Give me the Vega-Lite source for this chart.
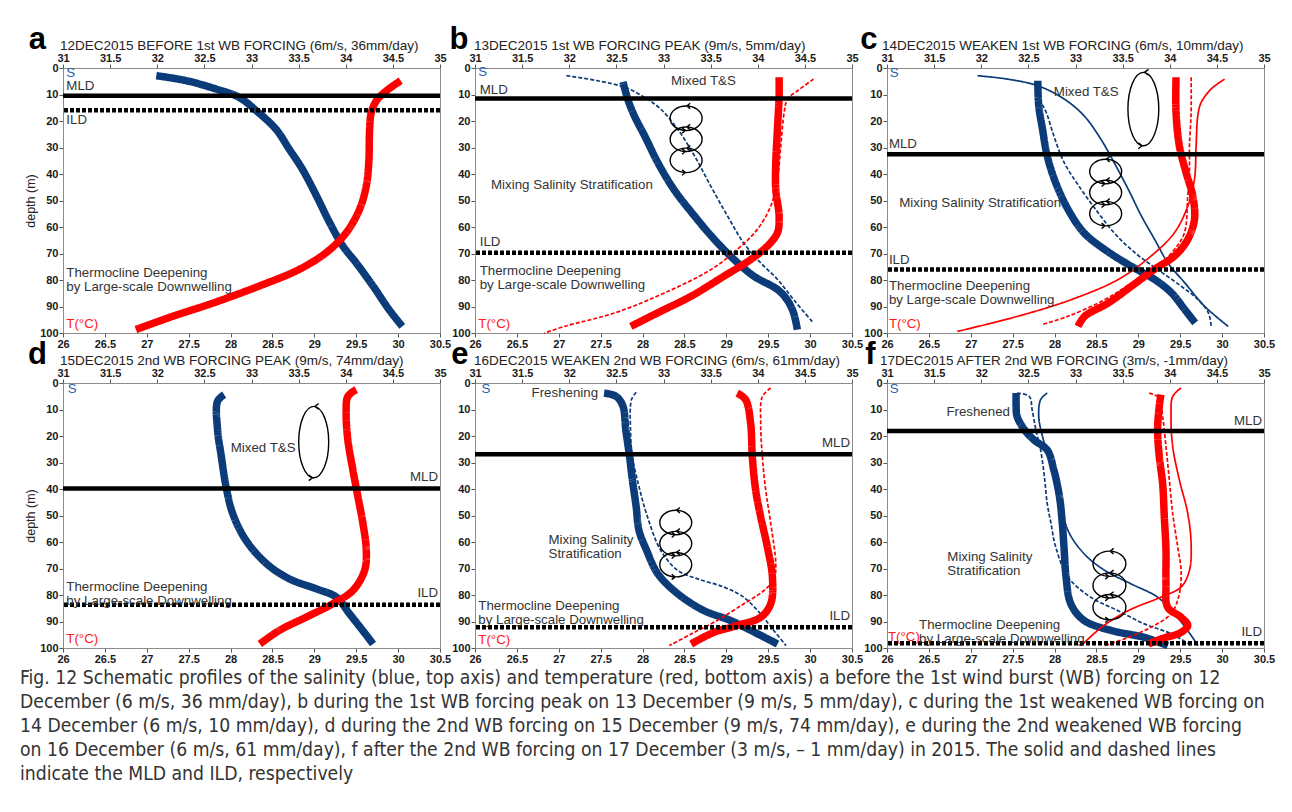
{
"$schema": "https://vega.github.io/schema/vega-lite/v6.json",
"background": "white",
"padding": {"left": 20, "top": 23, "right": 10, "bottom": 5},
"bounds": "flush",
"columns": 3,
"spacing": {"row": 50, "column": 35},
"title": {"text": ["Fig. 12 Schematic profiles of the salinity (blue, top axis) and temperature (red, bottom axis) a before the 1st wind burst (WB) forcing on 12", "December (6 m/s, 36 mm/day), b during the 1st WB forcing peak on 13 December (9 m/s, 5 mm/day), c during the 1st weakened WB forcing on", "14 December (6 m/s, 10 mm/day), d during the 2nd WB forcing on 15 December (9 m/s, 74 mm/day), e during the 2nd weakened WB forcing", "on 16 December (6 m/s, 61 mm/day), f after the 2nd WB forcing on 17 December (3 m/s, – 1 mm/day) in 2015. The solid and dashed lines", "indicate the MLD and ILD, respectively"], "orient": "bottom", "anchor": "start", "frame": "group", "font": "Liberation Sans Narrow, DejaVu Sans Condensed, Liberation Sans", "fontSize": 19.2, "fontWeight": "normal", "color": "#333", "lineHeight": 24, "offset": 4, "dx": -43},
"datasets": {
"prof": [
{"panel":"a","var":"S","kind":"cur","depth":2.9,"value":31.99},{"panel":"a","var":"S","kind":"cur","depth":4.8,"value":32.31},{"panel":"a","var":"S","kind":"cur","depth":8.0,"value":32.63},{"panel":"a","var":"S","kind":"cur","depth":11.1,"value":32.87},{"panel":"a","var":"S","kind":"cur","depth":16.1,"value":33.05},{"panel":"a","var":"S","kind":"cur","depth":23.1,"value":33.26},{"panel":"a","var":"S","kind":"cur","depth":30.6,"value":33.40},{"panel":"a","var":"S","kind":"cur","depth":38.2,"value":33.54},{"panel":"a","var":"S","kind":"cur","depth":48.3,"value":33.69},{"panel":"a","var":"S","kind":"cur","depth":58.4,"value":33.83},{"panel":"a","var":"S","kind":"cur","depth":67.2,"value":33.97},{"panel":"a","var":"S","kind":"cur","depth":73.5,"value":34.11},{"panel":"a","var":"S","kind":"cur","depth":82.3,"value":34.29},{"panel":"a","var":"S","kind":"cur","depth":91.2,"value":34.46},{"panel":"a","var":"S","kind":"cur","depth":97.5,"value":34.60},
{"panel":"a","var":"T","kind":"cur","depth":4.8,"value":30.03},{"panel":"a","var":"T","kind":"cur","depth":8.6,"value":29.86},{"panel":"a","var":"T","kind":"cur","depth":12.4,"value":29.74},{"panel":"a","var":"T","kind":"cur","depth":16.8,"value":29.68},{"panel":"a","var":"T","kind":"cur","depth":23.1,"value":29.66},{"panel":"a","var":"T","kind":"cur","depth":35.7,"value":29.65},{"panel":"a","var":"T","kind":"cur","depth":44.5,"value":29.62},{"panel":"a","var":"T","kind":"cur","depth":53.3,"value":29.54},{"panel":"a","var":"T","kind":"cur","depth":62.2,"value":29.38},{"panel":"a","var":"T","kind":"cur","depth":69.7,"value":29.14},{"panel":"a","var":"T","kind":"cur","depth":76.0,"value":28.82},{"panel":"a","var":"T","kind":"cur","depth":82.3,"value":28.34},{"panel":"a","var":"T","kind":"cur","depth":88.7,"value":27.79},{"panel":"a","var":"T","kind":"cur","depth":93.7,"value":27.31},{"panel":"a","var":"T","kind":"cur","depth":98.7,"value":26.87},
{"panel":"b","var":"S","kind":"cur","depth":5.2,"value":32.57},{"panel":"b","var":"S","kind":"cur","depth":11.7,"value":32.62},{"panel":"b","var":"S","kind":"cur","depth":18.0,"value":32.69},{"panel":"b","var":"S","kind":"cur","depth":25.6,"value":32.80},{"panel":"b","var":"S","kind":"cur","depth":35.7,"value":32.94},{"panel":"b","var":"S","kind":"cur","depth":45.8,"value":33.11},{"panel":"b","var":"S","kind":"cur","depth":55.9,"value":33.33},{"panel":"b","var":"S","kind":"cur","depth":64.7,"value":33.54},{"panel":"b","var":"S","kind":"cur","depth":72.3,"value":33.75},{"panel":"b","var":"S","kind":"cur","depth":78.6,"value":33.96},{"panel":"b","var":"S","kind":"cur","depth":83.6,"value":34.21},{"panel":"b","var":"S","kind":"cur","depth":87.4,"value":34.31},{"panel":"b","var":"S","kind":"cur","depth":92.4,"value":34.38},{"panel":"b","var":"S","kind":"cur","depth":98.7,"value":34.42},
{"panel":"b","var":"S","kind":"prev","depth":2.9,"value":31.97},{"panel":"b","var":"S","kind":"prev","depth":4.8,"value":32.30},{"panel":"b","var":"S","kind":"prev","depth":7.3,"value":32.59},{"panel":"b","var":"S","kind":"prev","depth":11.1,"value":32.80},{"panel":"b","var":"S","kind":"prev","depth":15.5,"value":32.97},{"panel":"b","var":"S","kind":"prev","depth":23.1,"value":33.15},{"panel":"b","var":"S","kind":"prev","depth":33.2,"value":33.33},{"panel":"b","var":"S","kind":"prev","depth":44.5,"value":33.50},{"panel":"b","var":"S","kind":"prev","depth":55.9,"value":33.68},{"panel":"b","var":"S","kind":"prev","depth":66.0,"value":33.85},{"panel":"b","var":"S","kind":"prev","depth":73.5,"value":34.03},{"panel":"b","var":"S","kind":"prev","depth":79.8,"value":34.21},{"panel":"b","var":"S","kind":"prev","depth":87.4,"value":34.38},{"panel":"b","var":"S","kind":"prev","depth":96.2,"value":34.59},
{"panel":"b","var":"T","kind":"cur","depth":3.5,"value":29.63},{"panel":"b","var":"T","kind":"cur","depth":10.5,"value":29.63},{"panel":"b","var":"T","kind":"cur","depth":23.1,"value":29.61},{"panel":"b","var":"T","kind":"cur","depth":35.7,"value":29.59},{"panel":"b","var":"T","kind":"cur","depth":45.8,"value":29.59},{"panel":"b","var":"T","kind":"cur","depth":55.9,"value":29.63},{"panel":"b","var":"T","kind":"cur","depth":62.2,"value":29.61},{"panel":"b","var":"T","kind":"cur","depth":67.2,"value":29.49},{"panel":"b","var":"T","kind":"cur","depth":72.3,"value":29.29},{"panel":"b","var":"T","kind":"cur","depth":78.6,"value":28.97},{"panel":"b","var":"T","kind":"cur","depth":86.1,"value":28.58},{"panel":"b","var":"T","kind":"cur","depth":92.4,"value":28.18},{"panel":"b","var":"T","kind":"cur","depth":97.5,"value":27.86},
{"panel":"b","var":"T","kind":"prev","depth":4.2,"value":30.04},{"panel":"b","var":"T","kind":"prev","depth":8.6,"value":29.85},{"panel":"b","var":"T","kind":"prev","depth":11.7,"value":29.73},{"panel":"b","var":"T","kind":"prev","depth":16.8,"value":29.69},{"panel":"b","var":"T","kind":"prev","depth":29.4,"value":29.65},{"panel":"b","var":"T","kind":"prev","depth":42.0,"value":29.61},{"panel":"b","var":"T","kind":"prev","depth":52.1,"value":29.53},{"panel":"b","var":"T","kind":"prev","depth":60.9,"value":29.37},{"panel":"b","var":"T","kind":"prev","depth":68.5,"value":29.13},{"panel":"b","var":"T","kind":"prev","depth":76.0,"value":28.82},{"panel":"b","var":"T","kind":"prev","depth":84.9,"value":28.26},{"panel":"b","var":"T","kind":"prev","depth":92.4,"value":27.67},{"panel":"b","var":"T","kind":"prev","depth":97.5,"value":27.07},{"panel":"b","var":"T","kind":"prev","depth":100,"value":26.83},
{"panel":"c","var":"S","kind":"cur","depth":4.8,"value":32.60},{"panel":"c","var":"S","kind":"cur","depth":14.2,"value":32.61},{"panel":"c","var":"S","kind":"cur","depth":23.1,"value":32.65},{"panel":"c","var":"S","kind":"cur","depth":33.2,"value":32.70},{"panel":"c","var":"S","kind":"cur","depth":43.3,"value":32.79},{"panel":"c","var":"S","kind":"cur","depth":53.3,"value":32.92},{"panel":"c","var":"S","kind":"cur","depth":62.2,"value":33.09},{"panel":"c","var":"S","kind":"cur","depth":68.5,"value":33.31},{"panel":"c","var":"S","kind":"cur","depth":74.8,"value":33.59},{"panel":"c","var":"S","kind":"cur","depth":79.8,"value":33.84},{"panel":"c","var":"S","kind":"cur","depth":84.9,"value":34.02},{"panel":"c","var":"S","kind":"cur","depth":91.2,"value":34.16},{"panel":"c","var":"S","kind":"cur","depth":96.2,"value":34.27},
{"panel":"c","var":"S","kind":"prev","depth":5.2,"value":32.57},{"panel":"c","var":"S","kind":"prev","depth":11.7,"value":32.62},{"panel":"c","var":"S","kind":"prev","depth":16.8,"value":32.69},{"panel":"c","var":"S","kind":"prev","depth":25.6,"value":32.77},{"panel":"c","var":"S","kind":"prev","depth":35.7,"value":32.88},{"panel":"c","var":"S","kind":"prev","depth":45.8,"value":33.06},{"panel":"c","var":"S","kind":"prev","depth":54.6,"value":33.24},{"panel":"c","var":"S","kind":"prev","depth":62.2,"value":33.41},{"panel":"c","var":"S","kind":"prev","depth":69.7,"value":33.63},{"panel":"c","var":"S","kind":"prev","depth":76.0,"value":33.87},{"panel":"c","var":"S","kind":"prev","depth":82.3,"value":34.12},{"panel":"c","var":"S","kind":"prev","depth":87.4,"value":34.30},{"panel":"c","var":"S","kind":"prev","depth":92.4,"value":34.41},{"panel":"c","var":"S","kind":"prev","depth":97.5,"value":34.44},
{"panel":"c","var":"S","kind":"prev2","depth":2.9,"value":31.96},{"panel":"c","var":"S","kind":"prev2","depth":4.2,"value":32.28},{"panel":"c","var":"S","kind":"prev2","depth":6.7,"value":32.60},{"panel":"c","var":"S","kind":"prev2","depth":11.7,"value":32.88},{"panel":"c","var":"S","kind":"prev2","depth":18.0,"value":33.09},{"panel":"c","var":"S","kind":"prev2","depth":26.9,"value":33.27},{"panel":"c","var":"S","kind":"prev2","depth":35.7,"value":33.41},{"panel":"c","var":"S","kind":"prev2","depth":45.8,"value":33.56},{"panel":"c","var":"S","kind":"prev2","depth":55.9,"value":33.70},{"panel":"c","var":"S","kind":"prev2","depth":64.7,"value":33.84},{"panel":"c","var":"S","kind":"prev2","depth":73.5,"value":33.98},{"panel":"c","var":"S","kind":"prev2","depth":81.1,"value":34.16},{"panel":"c","var":"S","kind":"prev2","depth":89.9,"value":34.37},{"panel":"c","var":"S","kind":"prev2","depth":97.5,"value":34.62},
{"panel":"c","var":"T","kind":"cur","depth":3.5,"value":29.45},{"panel":"c","var":"T","kind":"cur","depth":16.8,"value":29.45},{"panel":"c","var":"T","kind":"cur","depth":29.4,"value":29.49},{"panel":"c","var":"T","kind":"cur","depth":39.5,"value":29.57},{"panel":"c","var":"T","kind":"cur","depth":48.3,"value":29.65},{"panel":"c","var":"T","kind":"cur","depth":57.1,"value":29.67},{"panel":"c","var":"T","kind":"cur","depth":64.7,"value":29.59},{"panel":"c","var":"T","kind":"cur","depth":71.0,"value":29.43},{"panel":"c","var":"T","kind":"cur","depth":76.0,"value":29.19},{"panel":"c","var":"T","kind":"cur","depth":82.3,"value":28.92},{"panel":"c","var":"T","kind":"cur","depth":88.7,"value":28.64},{"panel":"c","var":"T","kind":"cur","depth":93.7,"value":28.36},{"panel":"c","var":"T","kind":"cur","depth":97.5,"value":28.28},
{"panel":"c","var":"T","kind":"prev","depth":3.5,"value":29.63},{"panel":"c","var":"T","kind":"prev","depth":16.8,"value":29.63},{"panel":"c","var":"T","kind":"prev","depth":29.4,"value":29.61},{"panel":"c","var":"T","kind":"prev","depth":39.5,"value":29.61},{"panel":"c","var":"T","kind":"prev","depth":48.3,"value":29.59},{"panel":"c","var":"T","kind":"prev","depth":62.2,"value":29.55},{"panel":"c","var":"T","kind":"prev","depth":68.5,"value":29.43},{"panel":"c","var":"T","kind":"prev","depth":74.8,"value":29.23},{"panel":"c","var":"T","kind":"prev","depth":81.1,"value":28.92},{"panel":"c","var":"T","kind":"prev","depth":87.4,"value":28.60},{"panel":"c","var":"T","kind":"prev","depth":93.7,"value":28.16},{"panel":"c","var":"T","kind":"prev","depth":96.9,"value":27.84},
{"panel":"c","var":"T","kind":"prev2","depth":4.2,"value":30.03},{"panel":"c","var":"T","kind":"prev2","depth":7.9,"value":29.87},{"panel":"c","var":"T","kind":"prev2","depth":13.0,"value":29.75},{"panel":"c","var":"T","kind":"prev2","depth":18.0,"value":29.71},{"panel":"c","var":"T","kind":"prev2","depth":29.4,"value":29.69},{"panel":"c","var":"T","kind":"prev2","depth":42.0,"value":29.67},{"panel":"c","var":"T","kind":"prev2","depth":52.1,"value":29.59},{"panel":"c","var":"T","kind":"prev2","depth":62.2,"value":29.43},{"panel":"c","var":"T","kind":"prev2","depth":71.0,"value":29.15},{"panel":"c","var":"T","kind":"prev2","depth":79.8,"value":28.76},{"panel":"c","var":"T","kind":"prev2","depth":87.4,"value":28.20},{"panel":"c","var":"T","kind":"prev2","depth":93.7,"value":27.56},{"panel":"c","var":"T","kind":"prev2","depth":99.4,"value":26.84},
{"panel":"d","var":"S","kind":"cur","depth":4.4,"value":32.71},{"panel":"d","var":"S","kind":"cur","depth":6.9,"value":32.64},{"panel":"d","var":"S","kind":"cur","depth":17.7,"value":32.64},{"panel":"d","var":"S","kind":"cur","depth":27.8,"value":32.68},{"panel":"d","var":"S","kind":"cur","depth":39.1,"value":32.73},{"panel":"d","var":"S","kind":"cur","depth":49.2,"value":32.80},{"panel":"d","var":"S","kind":"cur","depth":59.3,"value":32.94},{"panel":"d","var":"S","kind":"cur","depth":68.2,"value":33.16},{"panel":"d","var":"S","kind":"cur","depth":73.9,"value":33.40},{"panel":"d","var":"S","kind":"cur","depth":77.7,"value":33.69},{"panel":"d","var":"S","kind":"cur","depth":80.8,"value":33.90},{"panel":"d","var":"S","kind":"cur","depth":87.1,"value":34.04},{"panel":"d","var":"S","kind":"cur","depth":93.4,"value":34.18},{"panel":"d","var":"S","kind":"cur","depth":98.5,"value":34.29},
{"panel":"d","var":"T","kind":"cur","depth":2.5,"value":29.50},{"panel":"d","var":"T","kind":"cur","depth":5.1,"value":29.40},{"panel":"d","var":"T","kind":"cur","depth":11.4,"value":29.38},{"panel":"d","var":"T","kind":"cur","depth":21.5,"value":29.40},{"panel":"d","var":"T","kind":"cur","depth":32.8,"value":29.46},{"panel":"d","var":"T","kind":"cur","depth":42.9,"value":29.52},{"panel":"d","var":"T","kind":"cur","depth":53.0,"value":29.58},{"panel":"d","var":"T","kind":"cur","depth":63.1,"value":29.62},{"panel":"d","var":"T","kind":"cur","depth":70.7,"value":29.60},{"panel":"d","var":"T","kind":"cur","depth":78.3,"value":29.46},{"panel":"d","var":"T","kind":"cur","depth":83.3,"value":29.22},{"panel":"d","var":"T","kind":"cur","depth":88.4,"value":28.90},{"panel":"d","var":"T","kind":"cur","depth":93.4,"value":28.58},{"panel":"d","var":"T","kind":"cur","depth":98.5,"value":28.35},
{"panel":"e","var":"S","kind":"cur","depth":3.8,"value":32.37},{"panel":"e","var":"S","kind":"cur","depth":5.1,"value":32.50},{"panel":"e","var":"S","kind":"cur","depth":8.8,"value":32.57},{"panel":"e","var":"S","kind":"cur","depth":17.7,"value":32.60},{"panel":"e","var":"S","kind":"cur","depth":27.8,"value":32.64},{"panel":"e","var":"S","kind":"cur","depth":36.6,"value":32.67},{"panel":"e","var":"S","kind":"cur","depth":46.7,"value":32.71},{"panel":"e","var":"S","kind":"cur","depth":55.6,"value":32.74},{"panel":"e","var":"S","kind":"cur","depth":63.1,"value":32.82},{"panel":"e","var":"S","kind":"cur","depth":72.0,"value":32.94},{"panel":"e","var":"S","kind":"cur","depth":79.5,"value":33.15},{"panel":"e","var":"S","kind":"cur","depth":85.9,"value":33.43},{"panel":"e","var":"S","kind":"cur","depth":89.6,"value":33.71},{"panel":"e","var":"S","kind":"cur","depth":93.4,"value":33.93},{"panel":"e","var":"S","kind":"cur","depth":98.5,"value":34.21},
{"panel":"e","var":"S","kind":"prev","depth":3.5,"value":32.71},{"panel":"e","var":"S","kind":"prev","depth":6.3,"value":32.66},{"panel":"e","var":"S","kind":"prev","depth":17.7,"value":32.65},{"panel":"e","var":"S","kind":"prev","depth":27.8,"value":32.67},{"panel":"e","var":"S","kind":"prev","depth":39.1,"value":32.74},{"panel":"e","var":"S","kind":"prev","depth":50.5,"value":32.83},{"panel":"e","var":"S","kind":"prev","depth":63.1,"value":32.97},{"panel":"e","var":"S","kind":"prev","depth":70.7,"value":33.15},{"panel":"e","var":"S","kind":"prev","depth":73.9,"value":33.36},{"panel":"e","var":"S","kind":"prev","depth":77.0,"value":33.64},{"panel":"e","var":"S","kind":"prev","depth":80.8,"value":33.85},{"panel":"e","var":"S","kind":"prev","depth":87.1,"value":34.03},{"panel":"e","var":"S","kind":"prev","depth":93.4,"value":34.17},{"panel":"e","var":"S","kind":"prev","depth":99.1,"value":34.30},
{"panel":"e","var":"T","kind":"cur","depth":3.8,"value":29.13},{"panel":"e","var":"T","kind":"cur","depth":6.3,"value":29.23},{"panel":"e","var":"T","kind":"cur","depth":15.2,"value":29.29},{"panel":"e","var":"T","kind":"cur","depth":27.8,"value":29.31},{"panel":"e","var":"T","kind":"cur","depth":40.4,"value":29.35},{"panel":"e","var":"T","kind":"cur","depth":50.5,"value":29.41},{"panel":"e","var":"T","kind":"cur","depth":61.9,"value":29.49},{"panel":"e","var":"T","kind":"cur","depth":73.2,"value":29.55},{"panel":"e","var":"T","kind":"cur","depth":83.3,"value":29.53},{"panel":"e","var":"T","kind":"cur","depth":88.4,"value":29.41},{"panel":"e","var":"T","kind":"cur","depth":91.5,"value":29.13},{"panel":"e","var":"T","kind":"cur","depth":94.1,"value":28.85},{"panel":"e","var":"T","kind":"cur","depth":98.5,"value":28.58},
{"panel":"e","var":"T","kind":"prev","depth":1.9,"value":29.53},{"panel":"e","var":"T","kind":"prev","depth":5.1,"value":29.43},{"panel":"e","var":"T","kind":"prev","depth":15.2,"value":29.41},{"panel":"e","var":"T","kind":"prev","depth":27.8,"value":29.43},{"panel":"e","var":"T","kind":"prev","depth":40.4,"value":29.47},{"panel":"e","var":"T","kind":"prev","depth":53.0,"value":29.53},{"panel":"e","var":"T","kind":"prev","depth":68.2,"value":29.59},{"panel":"e","var":"T","kind":"prev","depth":73.9,"value":29.57},{"panel":"e","var":"T","kind":"prev","depth":78.3,"value":29.45},{"panel":"e","var":"T","kind":"prev","depth":83.3,"value":29.21},{"panel":"e","var":"T","kind":"prev","depth":89.6,"value":28.89},{"panel":"e","var":"T","kind":"prev","depth":94.7,"value":28.58},{"panel":"e","var":"T","kind":"prev","depth":99.1,"value":28.32},
{"panel":"f","var":"S","kind":"cur","depth":3.8,"value":32.37},{"panel":"f","var":"S","kind":"cur","depth":8.8,"value":32.37},{"panel":"f","var":"S","kind":"cur","depth":12.6,"value":32.38},{"panel":"f","var":"S","kind":"cur","depth":17.7,"value":32.46},{"panel":"f","var":"S","kind":"cur","depth":21.5,"value":32.56},{"panel":"f","var":"S","kind":"cur","depth":25.3,"value":32.70},{"panel":"f","var":"S","kind":"cur","depth":32.8,"value":32.77},{"panel":"f","var":"S","kind":"cur","depth":42.9,"value":32.83},{"panel":"f","var":"S","kind":"cur","depth":53.0,"value":32.86},{"panel":"f","var":"S","kind":"cur","depth":63.1,"value":32.88},{"panel":"f","var":"S","kind":"cur","depth":73.2,"value":32.90},{"panel":"f","var":"S","kind":"cur","depth":83.3,"value":32.95},{"panel":"f","var":"S","kind":"cur","depth":89.6,"value":33.09},{"panel":"f","var":"S","kind":"cur","depth":93.4,"value":33.38},{"panel":"f","var":"S","kind":"cur","depth":96.0,"value":33.73},{"panel":"f","var":"S","kind":"cur","depth":99.1,"value":33.98},
{"panel":"f","var":"S","kind":"prev","depth":3.8,"value":32.38},{"panel":"f","var":"S","kind":"prev","depth":5.1,"value":32.51},{"panel":"f","var":"S","kind":"prev","depth":10.1,"value":32.54},{"panel":"f","var":"S","kind":"prev","depth":17.7,"value":32.58},{"panel":"f","var":"S","kind":"prev","depth":25.3,"value":32.63},{"panel":"f","var":"S","kind":"prev","depth":35.4,"value":32.67},{"panel":"f","var":"S","kind":"prev","depth":45.5,"value":32.70},{"panel":"f","var":"S","kind":"prev","depth":53.0,"value":32.74},{"panel":"f","var":"S","kind":"prev","depth":61.9,"value":32.79},{"panel":"f","var":"S","kind":"prev","depth":73.2,"value":32.92},{"panel":"f","var":"S","kind":"prev","depth":80.8,"value":33.16},{"panel":"f","var":"S","kind":"prev","depth":85.9,"value":33.45},{"panel":"f","var":"S","kind":"prev","depth":90.9,"value":33.73},{"panel":"f","var":"S","kind":"prev","depth":94.7,"value":34.02},{"panel":"f","var":"S","kind":"prev","depth":99.1,"value":34.23},
{"panel":"f","var":"S","kind":"prev2","depth":3.8,"value":32.70},{"panel":"f","var":"S","kind":"prev2","depth":6.3,"value":32.63},{"panel":"f","var":"S","kind":"prev2","depth":12.6,"value":32.61},{"panel":"f","var":"S","kind":"prev2","depth":20.2,"value":32.65},{"panel":"f","var":"S","kind":"prev2","depth":30.3,"value":32.74},{"panel":"f","var":"S","kind":"prev2","depth":42.9,"value":32.83},{"panel":"f","var":"S","kind":"prev2","depth":55.6,"value":32.92},{"panel":"f","var":"S","kind":"prev2","depth":64.4,"value":33.09},{"panel":"f","var":"S","kind":"prev2","depth":70.7,"value":33.31},{"panel":"f","var":"S","kind":"prev2","depth":75.8,"value":33.59},{"panel":"f","var":"S","kind":"prev2","depth":80.8,"value":33.87},{"panel":"f","var":"S","kind":"prev2","depth":87.1,"value":34.05},{"panel":"f","var":"S","kind":"prev2","depth":93.4,"value":34.19},{"panel":"f","var":"S","kind":"prev2","depth":99.1,"value":34.30},
{"panel":"f","var":"T","kind":"cur","depth":4.4,"value":29.27},{"panel":"f","var":"T","kind":"cur","depth":8.8,"value":29.25},{"panel":"f","var":"T","kind":"cur","depth":17.7,"value":29.23},{"panel":"f","var":"T","kind":"cur","depth":27.8,"value":29.25},{"panel":"f","var":"T","kind":"cur","depth":37.9,"value":29.29},{"panel":"f","var":"T","kind":"cur","depth":50.5,"value":29.31},{"panel":"f","var":"T","kind":"cur","depth":63.1,"value":29.33},{"panel":"f","var":"T","kind":"cur","depth":75.8,"value":29.33},{"panel":"f","var":"T","kind":"cur","depth":84.6,"value":29.35},{"panel":"f","var":"T","kind":"cur","depth":88.4,"value":29.51},{"panel":"f","var":"T","kind":"cur","depth":91.5,"value":29.59},{"panel":"f","var":"T","kind":"cur","depth":94.1,"value":29.51},{"panel":"f","var":"T","kind":"cur","depth":96.6,"value":29.27},{"panel":"f","var":"T","kind":"cur","depth":98.5,"value":29.12},
{"panel":"f","var":"T","kind":"prev","depth":3.8,"value":29.13},{"panel":"f","var":"T","kind":"prev","depth":5.7,"value":29.25},{"panel":"f","var":"T","kind":"prev","depth":12.6,"value":29.29},{"panel":"f","var":"T","kind":"prev","depth":24.0,"value":29.33},{"panel":"f","var":"T","kind":"prev","depth":36.6,"value":29.37},{"panel":"f","var":"T","kind":"prev","depth":49.2,"value":29.41},{"panel":"f","var":"T","kind":"prev","depth":61.9,"value":29.47},{"panel":"f","var":"T","kind":"prev","depth":70.7,"value":29.51},{"panel":"f","var":"T","kind":"prev","depth":79.5,"value":29.49},{"panel":"f","var":"T","kind":"prev","depth":87.1,"value":29.39},{"panel":"f","var":"T","kind":"prev","depth":92.2,"value":29.15},{"panel":"f","var":"T","kind":"prev","depth":96.0,"value":28.88},{"panel":"f","var":"T","kind":"prev","depth":99.1,"value":28.60},
{"panel":"f","var":"T","kind":"prev2","depth":1.9,"value":29.51},{"panel":"f","var":"T","kind":"prev2","depth":5.1,"value":29.41},{"panel":"f","var":"T","kind":"prev2","depth":12.6,"value":29.39},{"panel":"f","var":"T","kind":"prev2","depth":24.0,"value":29.41},{"panel":"f","var":"T","kind":"prev2","depth":36.6,"value":29.49},{"panel":"f","var":"T","kind":"prev2","depth":49.2,"value":29.59},{"panel":"f","var":"T","kind":"prev2","depth":60.6,"value":29.63},{"panel":"f","var":"T","kind":"prev2","depth":70.7,"value":29.61},{"panel":"f","var":"T","kind":"prev2","depth":77.0,"value":29.51},{"panel":"f","var":"T","kind":"prev2","depth":80.8,"value":29.27},{"panel":"f","var":"T","kind":"prev2","depth":85.9,"value":28.88},{"panel":"f","var":"T","kind":"prev2","depth":92.2,"value":28.56},{"panel":"f","var":"T","kind":"prev2","depth":99.1,"value":28.32}
],
"lev": [
{"panel":"a","level":"MLD","depth":10.5},{"panel":"a","level":"ILD","depth":15.9},
{"panel":"b","level":"MLD","depth":11.5},{"panel":"b","level":"ILD","depth":69.7},
{"panel":"c","level":"MLD","depth":32.5},{"panel":"c","level":"ILD","depth":76.0},
{"panel":"d","level":"MLD","depth":39.8},{"panel":"d","level":"ILD","depth":83.7},
{"panel":"e","level":"MLD","depth":26.9},{"panel":"e","level":"ILD","depth":92.2},
{"panel":"f","level":"MLD","depth":18.1},{"panel":"f","level":"ILD","depth":98.2}
],
"lab": [
{"panel":"a","text":"S","x":31.035,"depth":2.0,"role":"S","side":"left"},
{"panel":"a","text":"MLD","x":31.035,"depth":6.9,"role":"note","side":"left"},
{"panel":"a","text":"ILD","x":31.035,"depth":19.5,"role":"note","side":"left"},
{"panel":"a","text":"Thermocline Deepening\nby Large-scale Downwelling","x":31.035,"depth":77.2,"role":"note","side":"left"},
{"panel":"a","text":"T(°C)","x":31.035,"depth":96.5,"role":"T","side":"left"},
{"panel":"b","text":"S","x":31.035,"depth":1.6,"role":"S","side":"left"},
{"panel":"b","text":"Mixed T&S","x":33.08,"depth":4.8,"role":"note","side":"left"},
{"panel":"b","text":"MLD","x":31.05,"depth":8.2,"role":"note","side":"left"},
{"panel":"b","text":"Mixing Salinity Stratification","x":31.17,"depth":44.3,"role":"note","side":"left"},
{"panel":"b","text":"ILD","x":31.05,"depth":65.6,"role":"note","side":"left"},
{"panel":"b","text":"Thermocline Deepening\nby Large-scale Downwelling","x":31.05,"depth":76.5,"role":"note","side":"left"},
{"panel":"b","text":"T(°C)","x":31.035,"depth":96.5,"role":"T","side":"left"},
{"panel":"c","text":"S","x":31.03,"depth":2.0,"role":"S","side":"left"},
{"panel":"c","text":"Mixed T&S","x":32.77,"depth":9.0,"role":"note","side":"left"},
{"panel":"c","text":"MLD","x":31.02,"depth":28.7,"role":"note","side":"left"},
{"panel":"c","text":"Mixing Salinity Stratification","x":31.13,"depth":50.8,"role":"note","side":"left"},
{"panel":"c","text":"ILD","x":31.02,"depth":72.3,"role":"note","side":"left"},
{"panel":"c","text":"Thermocline Deepening\nby Large-scale Downwelling","x":31.02,"depth":82.2,"role":"note","side":"left"},
{"panel":"c","text":"T(°C)","x":31.02,"depth":96.5,"role":"T","side":"left"},
{"panel":"d","text":"S","x":31.05,"depth":2.1,"role":"S","side":"left"},
{"panel":"d","text":"Mixed T&S","x":32.78,"depth":24.6,"role":"note","side":"left"},
{"panel":"d","text":"MLD","x":34.98,"depth":35.4,"role":"note","side":"right"},
{"panel":"d","text":"Thermocline Deepening\nby Large-scale Downwelling","x":31.035,"depth":77.0,"role":"note","side":"left"},
{"panel":"d","text":"ILD","x":34.98,"depth":79.3,"role":"note","side":"right"},
{"panel":"d","text":"T(°C)","x":31.035,"depth":96.6,"role":"T","side":"left"},
{"panel":"e","text":"S","x":31.07,"depth":2.3,"role":"S","side":"left"},
{"panel":"e","text":"Freshening","x":31.60,"depth":3.8,"role":"note","side":"left"},
{"panel":"e","text":"MLD","x":34.98,"depth":22.5,"role":"note","side":"right"},
{"panel":"e","text":"Mixing Salinity\nStratification","x":31.78,"depth":59.1,"role":"note","side":"left"},
{"panel":"e","text":"Thermocline Deepening\nby Large-scale Downwelling","x":31.035,"depth":84.3,"role":"note","side":"left"},
{"panel":"e","text":"ILD","x":34.98,"depth":88.1,"role":"note","side":"right"},
{"panel":"e","text":"T(°C)","x":31.035,"depth":97.0,"role":"T","side":"left"},
{"panel":"f","text":"S","x":31.03,"depth":2.3,"role":"S","side":"left"},
{"panel":"f","text":"Freshened","x":31.63,"depth":11.1,"role":"note","side":"left"},
{"panel":"f","text":"MLD","x":34.98,"depth":14.3,"role":"note","side":"right"},
{"panel":"f","text":"Mixing Salinity\nStratification","x":31.64,"depth":65.5,"role":"note","side":"left"},
{"panel":"f","text":"Thermocline Deepening\nby Large-scale Downwelling","x":31.34,"depth":91.4,"role":"note","side":"left"},
{"panel":"f","text":"ILD","x":34.98,"depth":94.1,"role":"note","side":"right"},
{"panel":"f","text":"T(°C)","x":31.01,"depth":96.0,"role":"T","side":"left"}
],
"sym": [
{"panel":"b","kind":"eddy","x":33.24,"depth":26.9},
{"panel":"c","kind":"eddy","x":33.32,"depth":47.0},
{"panel":"e","kind":"eddy","x":33.13,"depth":60.6},
{"panel":"f","kind":"eddy","x":33.36,"depth":76.4},
{"panel":"c","kind":"loop","x":33.72,"depth":15.5},
{"panel":"d","kind":"loop","x":33.66,"depth":22.3}
],
"ttl": [
{"panel":"a","letter":"a","x":30.82,"depth":-7},
{"panel":"b","letter":"b","x":30.93,"depth":-7},
{"panel":"c","letter":"c","x":30.90,"depth":-7},
{"panel":"d","letter":"d","x":30.83,"depth":-7},
{"panel":"e","letter":"e","x":30.93,"depth":-7},
{"panel":"f","letter":"f","x":30.88,"depth":-7}
]
},
"concat": [
{"width":377,"height":265,"title":{"text":"12DEC2015 BEFORE 1st WB FORCING (6m/s, 36mm/day)","dx":-3},
"resolve":{"scale":{"x":"independent"}},
"layer":[
{"data":{"name":"prof"},"transform":[{"filter":"datum.panel==='a' && datum.var==='S'"}],"mark":{"type":"line","color":"#0b3b78","interpolate":"catmull-rom"},"encoding":{"x":{"field":"value","type":"quantitative","scale":{"domain":[31,35],"nice":false,"zero":false},"axis":{"orient":"top","values":[31,31.5,32,32.5,33,33.5,34,34.5,35],"format":"~g","title":null}},"y":{"field":"depth","type":"quantitative","scale":{"domain":[0,100],"reverse":true,"nice":false,"zero":false},"axis":{"values":[0,10,20,30,40,50,60,70,80,90,100],"title":"depth (m)"}},"order":{"field":"depth","type":"quantitative"},"detail":{"field":"kind"},"strokeWidth":{"field":"kind","type":"nominal","scale":{"type":"ordinal","domain":["cur","prev","prev2"],"range":[7.5,1.7,1.7]},"legend":null},"strokeDash":{"field":"kind","type":"nominal","scale":{"type":"ordinal","domain":["cur","prev","prev2"],"range":[[1,0],[4,2],[1,0]]},"legend":null}}},
{"data":{"name":"prof"},"transform":[{"filter":"datum.panel==='a' && datum.var==='T'"}],"mark":{"type":"line","color":"#ff0000","interpolate":"catmull-rom"},"encoding":{"x":{"field":"value","type":"quantitative","scale":{"domain":[26,30.5],"nice":false,"zero":false},"axis":{"orient":"bottom","values":[26,26.5,27,27.5,28,28.5,29,29.5,30,30.5],"format":"~g","title":null}},"y":{"field":"depth","type":"quantitative","scale":{"domain":[0,100],"reverse":true,"nice":false,"zero":false},"axis":{"values":[0,10,20,30,40,50,60,70,80,90,100],"title":"depth (m)"}},"order":{"field":"depth","type":"quantitative"},"detail":{"field":"kind"},"strokeWidth":{"field":"kind","type":"nominal","scale":{"type":"ordinal","domain":["cur","prev","prev2"],"range":[7.5,1.7,1.7]},"legend":null},"strokeDash":{"field":"kind","type":"nominal","scale":{"type":"ordinal","domain":["cur","prev","prev2"],"range":[[1,0],[4,2],[1,0]]},"legend":null}}},
{"data":{"name":"lev"},"transform":[{"filter":"datum.panel==='a'"}],"mark":{"type":"rule","color":"black","strokeWidth":4.5},"encoding":{"y":{"field":"depth","type":"quantitative","scale":{"domain":[0,100],"reverse":true,"nice":false,"zero":false},"axis":{"values":[0,10,20,30,40,50,60,70,80,90,100],"title":"depth (m)"}},"strokeDash":{"field":"level","type":"nominal","scale":{"type":"ordinal","domain":["MLD","ILD"],"range":[[1,0],[10,5]]},"legend":null}}},
{"data":{"name":"lab"},"transform":[{"filter":"datum.panel==='a' && datum.side==='left'"}],"mark":{"type":"text","align":"left","baseline":"middle","fontSize":13.3,"lineBreak":"\n","lineHeight":14,"font":"Liberation Sans"},"encoding":{"x":{"field":"x","type":"quantitative","scale":{"domain":[31,35],"nice":false,"zero":false},"axis":null},"y":{"field":"depth","type":"quantitative","scale":{"domain":[0,100],"reverse":true,"nice":false,"zero":false},"axis":{"values":[0,10,20,30,40,50,60,70,80,90,100],"title":"depth (m)"}},"text":{"field":"text"},"color":{"field":"role","type":"nominal","scale":{"domain":["note","S","T"],"range":["#333333","#2b5fad","#ff1a1a"]},"legend":null}}},
{"data":{"name":"ttl"},"transform":[{"filter":"datum.panel==='a'"}],"mark":{"type":"text","align":"right","baseline":"alphabetic","fontSize":31,"fontWeight":"bold","font":"Liberation Sans","color":"black"},"encoding":{"x":{"field":"x","type":"quantitative","scale":{"domain":[31,35],"nice":false,"zero":false},"axis":null},"y":{"field":"depth","type":"quantitative","scale":{"domain":[0,100],"reverse":true,"nice":false,"zero":false},"axis":{"values":[0,10,20,30,40,50,60,70,80,90,100],"title":"depth (m)"}},"text":{"field":"letter"}}}
]},
{"width":377,"height":265,"title":{"text":"13DEC2015 1st WB FORCING PEAK (9m/s, 5mm/day)","dx":-1},
"resolve":{"scale":{"x":"independent"}},
"layer":[
{"data":{"name":"prof"},"transform":[{"filter":"datum.panel==='b' && datum.var==='S'"}],"mark":{"type":"line","color":"#0b3b78","interpolate":"catmull-rom"},"encoding":{"x":{"field":"value","type":"quantitative","scale":{"domain":[31,35],"nice":false,"zero":false},"axis":{"orient":"top","values":[31,31.5,32,32.5,33,33.5,34,34.5,35],"format":"~g","title":null}},"y":{"field":"depth","type":"quantitative","scale":{"domain":[0,100],"reverse":true,"nice":false,"zero":false},"axis":{"values":[0,10,20,30,40,50,60,70,80,90,100],"title":null}},"order":{"field":"depth","type":"quantitative"},"detail":{"field":"kind"},"strokeWidth":{"field":"kind","type":"nominal","scale":{"type":"ordinal","domain":["cur","prev","prev2"],"range":[7.5,1.7,1.7]},"legend":null},"strokeDash":{"field":"kind","type":"nominal","scale":{"type":"ordinal","domain":["cur","prev","prev2"],"range":[[1,0],[4,2],[1,0]]},"legend":null}}},
{"data":{"name":"prof"},"transform":[{"filter":"datum.panel==='b' && datum.var==='T'"}],"mark":{"type":"line","color":"#ff0000","interpolate":"catmull-rom"},"encoding":{"x":{"field":"value","type":"quantitative","scale":{"domain":[26,30.5],"nice":false,"zero":false},"axis":{"orient":"bottom","values":[26,26.5,27,27.5,28,28.5,29,29.5,30,30.5],"format":"~g","title":null}},"y":{"field":"depth","type":"quantitative","scale":{"domain":[0,100],"reverse":true,"nice":false,"zero":false},"axis":{"values":[0,10,20,30,40,50,60,70,80,90,100],"title":null}},"order":{"field":"depth","type":"quantitative"},"detail":{"field":"kind"},"strokeWidth":{"field":"kind","type":"nominal","scale":{"type":"ordinal","domain":["cur","prev","prev2"],"range":[7.5,1.7,1.7]},"legend":null},"strokeDash":{"field":"kind","type":"nominal","scale":{"type":"ordinal","domain":["cur","prev","prev2"],"range":[[1,0],[4,2],[1,0]]},"legend":null}}},
{"data":{"name":"lev"},"transform":[{"filter":"datum.panel==='b'"}],"mark":{"type":"rule","color":"black","strokeWidth":4.5},"encoding":{"y":{"field":"depth","type":"quantitative","scale":{"domain":[0,100],"reverse":true,"nice":false,"zero":false},"axis":{"values":[0,10,20,30,40,50,60,70,80,90,100],"title":null}},"strokeDash":{"field":"level","type":"nominal","scale":{"type":"ordinal","domain":["MLD","ILD"],"range":[[1,0],[10,5]]},"legend":null}}},
{"data":{"name":"lab"},"transform":[{"filter":"datum.panel==='b' && datum.side==='left'"}],"mark":{"type":"text","align":"left","baseline":"middle","fontSize":13.3,"lineBreak":"\n","lineHeight":14,"font":"Liberation Sans"},"encoding":{"x":{"field":"x","type":"quantitative","scale":{"domain":[31,35],"nice":false,"zero":false},"axis":null},"y":{"field":"depth","type":"quantitative","scale":{"domain":[0,100],"reverse":true,"nice":false,"zero":false},"axis":{"values":[0,10,20,30,40,50,60,70,80,90,100],"title":null}},"text":{"field":"text"},"color":{"field":"role","type":"nominal","scale":{"domain":["note","S","T"],"range":["#333333","#2b5fad","#ff1a1a"]},"legend":null}}},
{"data":{"name":"sym"},"transform":[{"filter":"datum.panel==='b' && datum.kind==='eddy'"}],"mark":{"type":"point","filled":false,"color":"black","strokeWidth":1.4,"opacity":1,"size":4624,"shape":"M0.47,-0.62C0.47,-0.42,0.26,-0.26,0,-0.26C-0.26,-0.26,-0.47,-0.42,-0.47,-0.62C-0.47,-0.82,-0.26,-0.98,0,-0.98C0.26,-0.98,0.47,-0.82,0.47,-0.62M0.47,0C0.47,0.2,0.26,0.36,0,0.36C-0.26,0.36,-0.47,0.2,-0.47,0C-0.47,-0.2,-0.26,-0.36,0,-0.36C0.26,-0.36,0.47,-0.2,0.47,0M0.47,0.62C0.47,0.82,0.26,0.98,0,0.98C-0.26,0.98,-0.47,0.82,-0.47,0.62C-0.47,0.42,-0.26,0.26,0,0.26C0.26,0.26,0.47,0.42,0.47,0.62M0.12,-1.06L0.02,-0.98L0.12,-0.9M-0.12,-0.34L-0.02,-0.26L-0.12,-0.18M0.12,-0.44L0.02,-0.36L0.12,-0.28M-0.12,0.28L-0.02,0.36L-0.12,0.44M0.12,0.18L0.02,0.26L0.12,0.34M-0.12,0.9L-0.02,0.98L-0.12,1.06"},"encoding":{"x":{"field":"x","type":"quantitative","scale":{"domain":[31,35],"nice":false,"zero":false},"axis":null},"y":{"field":"depth","type":"quantitative","scale":{"domain":[0,100],"reverse":true,"nice":false,"zero":false},"axis":{"values":[0,10,20,30,40,50,60,70,80,90,100],"title":null}}}},
{"data":{"name":"ttl"},"transform":[{"filter":"datum.panel==='b'"}],"mark":{"type":"text","align":"right","baseline":"alphabetic","fontSize":31,"fontWeight":"bold","font":"Liberation Sans","color":"black"},"encoding":{"x":{"field":"x","type":"quantitative","scale":{"domain":[31,35],"nice":false,"zero":false},"axis":null},"y":{"field":"depth","type":"quantitative","scale":{"domain":[0,100],"reverse":true,"nice":false,"zero":false},"axis":{"values":[0,10,20,30,40,50,60,70,80,90,100],"title":null}},"text":{"field":"letter"}}}
]},
{"width":377,"height":265,"title":{"text":"14DEC2015 WEAKEN 1st WB FORCING (6m/s, 10mm/day)","dx":-5},
"resolve":{"scale":{"x":"independent"}},
"layer":[
{"data":{"name":"prof"},"transform":[{"filter":"datum.panel==='c' && datum.var==='S'"}],"mark":{"type":"line","color":"#0b3b78","interpolate":"catmull-rom"},"encoding":{"x":{"field":"value","type":"quantitative","scale":{"domain":[31,35],"nice":false,"zero":false},"axis":{"orient":"top","values":[31,31.5,32,32.5,33,33.5,34,34.5,35],"format":"~g","title":null}},"y":{"field":"depth","type":"quantitative","scale":{"domain":[0,100],"reverse":true,"nice":false,"zero":false},"axis":{"values":[0,10,20,30,40,50,60,70,80,90,100],"title":null}},"order":{"field":"depth","type":"quantitative"},"detail":{"field":"kind"},"strokeWidth":{"field":"kind","type":"nominal","scale":{"type":"ordinal","domain":["cur","prev","prev2"],"range":[7.5,1.7,1.7]},"legend":null},"strokeDash":{"field":"kind","type":"nominal","scale":{"type":"ordinal","domain":["cur","prev","prev2"],"range":[[1,0],[4,2],[1,0]]},"legend":null}}},
{"data":{"name":"prof"},"transform":[{"filter":"datum.panel==='c' && datum.var==='T'"}],"mark":{"type":"line","color":"#ff0000","interpolate":"catmull-rom"},"encoding":{"x":{"field":"value","type":"quantitative","scale":{"domain":[26,30.5],"nice":false,"zero":false},"axis":{"orient":"bottom","values":[26,26.5,27,27.5,28,28.5,29,29.5,30,30.5],"format":"~g","title":null}},"y":{"field":"depth","type":"quantitative","scale":{"domain":[0,100],"reverse":true,"nice":false,"zero":false},"axis":{"values":[0,10,20,30,40,50,60,70,80,90,100],"title":null}},"order":{"field":"depth","type":"quantitative"},"detail":{"field":"kind"},"strokeWidth":{"field":"kind","type":"nominal","scale":{"type":"ordinal","domain":["cur","prev","prev2"],"range":[7.5,1.7,1.7]},"legend":null},"strokeDash":{"field":"kind","type":"nominal","scale":{"type":"ordinal","domain":["cur","prev","prev2"],"range":[[1,0],[4,2],[1,0]]},"legend":null}}},
{"data":{"name":"lev"},"transform":[{"filter":"datum.panel==='c'"}],"mark":{"type":"rule","color":"black","strokeWidth":4.5},"encoding":{"y":{"field":"depth","type":"quantitative","scale":{"domain":[0,100],"reverse":true,"nice":false,"zero":false},"axis":{"values":[0,10,20,30,40,50,60,70,80,90,100],"title":null}},"strokeDash":{"field":"level","type":"nominal","scale":{"type":"ordinal","domain":["MLD","ILD"],"range":[[1,0],[10,5]]},"legend":null}}},
{"data":{"name":"lab"},"transform":[{"filter":"datum.panel==='c' && datum.side==='left'"}],"mark":{"type":"text","align":"left","baseline":"middle","fontSize":13.3,"lineBreak":"\n","lineHeight":14,"font":"Liberation Sans"},"encoding":{"x":{"field":"x","type":"quantitative","scale":{"domain":[31,35],"nice":false,"zero":false},"axis":null},"y":{"field":"depth","type":"quantitative","scale":{"domain":[0,100],"reverse":true,"nice":false,"zero":false},"axis":{"values":[0,10,20,30,40,50,60,70,80,90,100],"title":null}},"text":{"field":"text"},"color":{"field":"role","type":"nominal","scale":{"domain":["note","S","T"],"range":["#333333","#2b5fad","#ff1a1a"]},"legend":null}}},
{"data":{"name":"sym"},"transform":[{"filter":"datum.panel==='c' && datum.kind==='eddy'"}],"mark":{"type":"point","filled":false,"color":"black","strokeWidth":1.4,"opacity":1,"size":4624,"shape":"M0.47,-0.62C0.47,-0.42,0.26,-0.26,0,-0.26C-0.26,-0.26,-0.47,-0.42,-0.47,-0.62C-0.47,-0.82,-0.26,-0.98,0,-0.98C0.26,-0.98,0.47,-0.82,0.47,-0.62M0.47,0C0.47,0.2,0.26,0.36,0,0.36C-0.26,0.36,-0.47,0.2,-0.47,0C-0.47,-0.2,-0.26,-0.36,0,-0.36C0.26,-0.36,0.47,-0.2,0.47,0M0.47,0.62C0.47,0.82,0.26,0.98,0,0.98C-0.26,0.98,-0.47,0.82,-0.47,0.62C-0.47,0.42,-0.26,0.26,0,0.26C0.26,0.26,0.47,0.42,0.47,0.62M0.12,-1.06L0.02,-0.98L0.12,-0.9M-0.12,-0.34L-0.02,-0.26L-0.12,-0.18M0.12,-0.44L0.02,-0.36L0.12,-0.28M-0.12,0.28L-0.02,0.36L-0.12,0.44M0.12,0.18L0.02,0.26L0.12,0.34M-0.12,0.9L-0.02,0.98L-0.12,1.06"},"encoding":{"x":{"field":"x","type":"quantitative","scale":{"domain":[31,35],"nice":false,"zero":false},"axis":null},"y":{"field":"depth","type":"quantitative","scale":{"domain":[0,100],"reverse":true,"nice":false,"zero":false},"axis":{"values":[0,10,20,30,40,50,60,70,80,90,100],"title":null}}}},
{"data":{"name":"sym"},"transform":[{"filter":"datum.panel==='c' && datum.kind==='loop'"}],"mark":{"type":"point","filled":false,"color":"black","strokeWidth":1.4,"opacity":1,"size":5400,"shape":"M0.42,0C0.42,0.55,0.23,1,0,1C-0.23,1,-0.42,0.55,-0.42,0C-0.42,-0.55,-0.23,-1,0,-1C0.23,-1,0.42,-0.55,0.42,0M0.14,-1.08L0.03,-1L0.14,-0.92M-0.14,0.92L-0.03,1L-0.14,1.08"},"encoding":{"x":{"field":"x","type":"quantitative","scale":{"domain":[31,35],"nice":false,"zero":false},"axis":null},"y":{"field":"depth","type":"quantitative","scale":{"domain":[0,100],"reverse":true,"nice":false,"zero":false},"axis":{"values":[0,10,20,30,40,50,60,70,80,90,100],"title":null}}}},
{"data":{"name":"ttl"},"transform":[{"filter":"datum.panel==='c'"}],"mark":{"type":"text","align":"right","baseline":"alphabetic","fontSize":31,"fontWeight":"bold","font":"Liberation Sans","color":"black"},"encoding":{"x":{"field":"x","type":"quantitative","scale":{"domain":[31,35],"nice":false,"zero":false},"axis":null},"y":{"field":"depth","type":"quantitative","scale":{"domain":[0,100],"reverse":true,"nice":false,"zero":false},"axis":{"values":[0,10,20,30,40,50,60,70,80,90,100],"title":null}},"text":{"field":"letter"}}}
]},
{"width":377,"height":265,"title":{"text":"15DEC2015 2nd WB FORCING PEAK (9m/s, 74mm/day)","dx":-3},
"resolve":{"scale":{"x":"independent"}},
"layer":[
{"data":{"name":"prof"},"transform":[{"filter":"datum.panel==='d' && datum.var==='S'"}],"mark":{"type":"line","color":"#0b3b78","interpolate":"catmull-rom"},"encoding":{"x":{"field":"value","type":"quantitative","scale":{"domain":[31,35],"nice":false,"zero":false},"axis":{"orient":"top","values":[31,31.5,32,32.5,33,33.5,34,34.5,35],"format":"~g","title":null}},"y":{"field":"depth","type":"quantitative","scale":{"domain":[0,100],"reverse":true,"nice":false,"zero":false},"axis":{"values":[0,10,20,30,40,50,60,70,80,90,100],"title":"depth (m)"}},"order":{"field":"depth","type":"quantitative"},"detail":{"field":"kind"},"strokeWidth":{"field":"kind","type":"nominal","scale":{"type":"ordinal","domain":["cur","prev","prev2"],"range":[7.5,1.7,1.7]},"legend":null},"strokeDash":{"field":"kind","type":"nominal","scale":{"type":"ordinal","domain":["cur","prev","prev2"],"range":[[1,0],[4,2],[1,0]]},"legend":null}}},
{"data":{"name":"prof"},"transform":[{"filter":"datum.panel==='d' && datum.var==='T'"}],"mark":{"type":"line","color":"#ff0000","interpolate":"catmull-rom"},"encoding":{"x":{"field":"value","type":"quantitative","scale":{"domain":[26,30.5],"nice":false,"zero":false},"axis":{"orient":"bottom","values":[26,26.5,27,27.5,28,28.5,29,29.5,30,30.5],"format":"~g","title":null}},"y":{"field":"depth","type":"quantitative","scale":{"domain":[0,100],"reverse":true,"nice":false,"zero":false},"axis":{"values":[0,10,20,30,40,50,60,70,80,90,100],"title":"depth (m)"}},"order":{"field":"depth","type":"quantitative"},"detail":{"field":"kind"},"strokeWidth":{"field":"kind","type":"nominal","scale":{"type":"ordinal","domain":["cur","prev","prev2"],"range":[7.5,1.7,1.7]},"legend":null},"strokeDash":{"field":"kind","type":"nominal","scale":{"type":"ordinal","domain":["cur","prev","prev2"],"range":[[1,0],[4,2],[1,0]]},"legend":null}}},
{"data":{"name":"lev"},"transform":[{"filter":"datum.panel==='d'"}],"mark":{"type":"rule","color":"black","strokeWidth":4.5},"encoding":{"y":{"field":"depth","type":"quantitative","scale":{"domain":[0,100],"reverse":true,"nice":false,"zero":false},"axis":{"values":[0,10,20,30,40,50,60,70,80,90,100],"title":"depth (m)"}},"strokeDash":{"field":"level","type":"nominal","scale":{"type":"ordinal","domain":["MLD","ILD"],"range":[[1,0],[10,5]]},"legend":null}}},
{"data":{"name":"lab"},"transform":[{"filter":"datum.panel==='d' && datum.side==='left'"}],"mark":{"type":"text","align":"left","baseline":"middle","fontSize":13.3,"lineBreak":"\n","lineHeight":14,"font":"Liberation Sans"},"encoding":{"x":{"field":"x","type":"quantitative","scale":{"domain":[31,35],"nice":false,"zero":false},"axis":null},"y":{"field":"depth","type":"quantitative","scale":{"domain":[0,100],"reverse":true,"nice":false,"zero":false},"axis":{"values":[0,10,20,30,40,50,60,70,80,90,100],"title":"depth (m)"}},"text":{"field":"text"},"color":{"field":"role","type":"nominal","scale":{"domain":["note","S","T"],"range":["#333333","#2b5fad","#ff1a1a"]},"legend":null}}},
{"data":{"name":"lab"},"transform":[{"filter":"datum.panel==='d' && datum.side==='right'"}],"mark":{"type":"text","align":"right","baseline":"middle","fontSize":13.3,"font":"Liberation Sans","color":"#333333"},"encoding":{"x":{"field":"x","type":"quantitative","scale":{"domain":[31,35],"nice":false,"zero":false},"axis":null},"y":{"field":"depth","type":"quantitative","scale":{"domain":[0,100],"reverse":true,"nice":false,"zero":false},"axis":{"values":[0,10,20,30,40,50,60,70,80,90,100],"title":"depth (m)"}},"text":{"field":"text"}}},
{"data":{"name":"sym"},"transform":[{"filter":"datum.panel==='d' && datum.kind==='loop'"}],"mark":{"type":"point","filled":false,"color":"black","strokeWidth":1.4,"opacity":1,"size":5100,"shape":"M0.42,0C0.42,0.55,0.23,1,0,1C-0.23,1,-0.42,0.55,-0.42,0C-0.42,-0.55,-0.23,-1,0,-1C0.23,-1,0.42,-0.55,0.42,0M0.14,-1.08L0.03,-1L0.14,-0.92M-0.14,0.92L-0.03,1L-0.14,1.08"},"encoding":{"x":{"field":"x","type":"quantitative","scale":{"domain":[31,35],"nice":false,"zero":false},"axis":null},"y":{"field":"depth","type":"quantitative","scale":{"domain":[0,100],"reverse":true,"nice":false,"zero":false},"axis":{"values":[0,10,20,30,40,50,60,70,80,90,100],"title":"depth (m)"}}}},
{"data":{"name":"ttl"},"transform":[{"filter":"datum.panel==='d'"}],"mark":{"type":"text","align":"right","baseline":"alphabetic","fontSize":31,"fontWeight":"bold","font":"Liberation Sans","color":"black"},"encoding":{"x":{"field":"x","type":"quantitative","scale":{"domain":[31,35],"nice":false,"zero":false},"axis":null},"y":{"field":"depth","type":"quantitative","scale":{"domain":[0,100],"reverse":true,"nice":false,"zero":false},"axis":{"values":[0,10,20,30,40,50,60,70,80,90,100],"title":"depth (m)"}},"text":{"field":"letter"}}}
]},
{"width":377,"height":265,"title":{"text":"16DEC2015 WEAKEN 2nd WB FORCING (6m/s, 61mm/day)","dx":-1},
"resolve":{"scale":{"x":"independent"}},
"layer":[
{"data":{"name":"prof"},"transform":[{"filter":"datum.panel==='e' && datum.var==='S'"}],"mark":{"type":"line","color":"#0b3b78","interpolate":"catmull-rom"},"encoding":{"x":{"field":"value","type":"quantitative","scale":{"domain":[31,35],"nice":false,"zero":false},"axis":{"orient":"top","values":[31,31.5,32,32.5,33,33.5,34,34.5,35],"format":"~g","title":null}},"y":{"field":"depth","type":"quantitative","scale":{"domain":[0,100],"reverse":true,"nice":false,"zero":false},"axis":{"values":[0,10,20,30,40,50,60,70,80,90,100],"title":null}},"order":{"field":"depth","type":"quantitative"},"detail":{"field":"kind"},"strokeWidth":{"field":"kind","type":"nominal","scale":{"type":"ordinal","domain":["cur","prev","prev2"],"range":[7.5,1.7,1.7]},"legend":null},"strokeDash":{"field":"kind","type":"nominal","scale":{"type":"ordinal","domain":["cur","prev","prev2"],"range":[[1,0],[4,2],[1,0]]},"legend":null}}},
{"data":{"name":"prof"},"transform":[{"filter":"datum.panel==='e' && datum.var==='T'"}],"mark":{"type":"line","color":"#ff0000","interpolate":"catmull-rom"},"encoding":{"x":{"field":"value","type":"quantitative","scale":{"domain":[26,30.5],"nice":false,"zero":false},"axis":{"orient":"bottom","values":[26,26.5,27,27.5,28,28.5,29,29.5,30,30.5],"format":"~g","title":null}},"y":{"field":"depth","type":"quantitative","scale":{"domain":[0,100],"reverse":true,"nice":false,"zero":false},"axis":{"values":[0,10,20,30,40,50,60,70,80,90,100],"title":null}},"order":{"field":"depth","type":"quantitative"},"detail":{"field":"kind"},"strokeWidth":{"field":"kind","type":"nominal","scale":{"type":"ordinal","domain":["cur","prev","prev2"],"range":[7.5,1.7,1.7]},"legend":null},"strokeDash":{"field":"kind","type":"nominal","scale":{"type":"ordinal","domain":["cur","prev","prev2"],"range":[[1,0],[4,2],[1,0]]},"legend":null}}},
{"data":{"name":"lev"},"transform":[{"filter":"datum.panel==='e'"}],"mark":{"type":"rule","color":"black","strokeWidth":4.5},"encoding":{"y":{"field":"depth","type":"quantitative","scale":{"domain":[0,100],"reverse":true,"nice":false,"zero":false},"axis":{"values":[0,10,20,30,40,50,60,70,80,90,100],"title":null}},"strokeDash":{"field":"level","type":"nominal","scale":{"type":"ordinal","domain":["MLD","ILD"],"range":[[1,0],[10,5]]},"legend":null}}},
{"data":{"name":"lab"},"transform":[{"filter":"datum.panel==='e' && datum.side==='left'"}],"mark":{"type":"text","align":"left","baseline":"middle","fontSize":13.3,"lineBreak":"\n","lineHeight":14,"font":"Liberation Sans"},"encoding":{"x":{"field":"x","type":"quantitative","scale":{"domain":[31,35],"nice":false,"zero":false},"axis":null},"y":{"field":"depth","type":"quantitative","scale":{"domain":[0,100],"reverse":true,"nice":false,"zero":false},"axis":{"values":[0,10,20,30,40,50,60,70,80,90,100],"title":null}},"text":{"field":"text"},"color":{"field":"role","type":"nominal","scale":{"domain":["note","S","T"],"range":["#333333","#2b5fad","#ff1a1a"]},"legend":null}}},
{"data":{"name":"lab"},"transform":[{"filter":"datum.panel==='e' && datum.side==='right'"}],"mark":{"type":"text","align":"right","baseline":"middle","fontSize":13.3,"font":"Liberation Sans","color":"#333333"},"encoding":{"x":{"field":"x","type":"quantitative","scale":{"domain":[31,35],"nice":false,"zero":false},"axis":null},"y":{"field":"depth","type":"quantitative","scale":{"domain":[0,100],"reverse":true,"nice":false,"zero":false},"axis":{"values":[0,10,20,30,40,50,60,70,80,90,100],"title":null}},"text":{"field":"text"}}},
{"data":{"name":"sym"},"transform":[{"filter":"datum.panel==='e' && datum.kind==='eddy'"}],"mark":{"type":"point","filled":false,"color":"black","strokeWidth":1.4,"opacity":1,"size":4624,"shape":"M0.47,-0.62C0.47,-0.42,0.26,-0.26,0,-0.26C-0.26,-0.26,-0.47,-0.42,-0.47,-0.62C-0.47,-0.82,-0.26,-0.98,0,-0.98C0.26,-0.98,0.47,-0.82,0.47,-0.62M0.47,0C0.47,0.2,0.26,0.36,0,0.36C-0.26,0.36,-0.47,0.2,-0.47,0C-0.47,-0.2,-0.26,-0.36,0,-0.36C0.26,-0.36,0.47,-0.2,0.47,0M0.47,0.62C0.47,0.82,0.26,0.98,0,0.98C-0.26,0.98,-0.47,0.82,-0.47,0.62C-0.47,0.42,-0.26,0.26,0,0.26C0.26,0.26,0.47,0.42,0.47,0.62M0.12,-1.06L0.02,-0.98L0.12,-0.9M-0.12,-0.34L-0.02,-0.26L-0.12,-0.18M0.12,-0.44L0.02,-0.36L0.12,-0.28M-0.12,0.28L-0.02,0.36L-0.12,0.44M0.12,0.18L0.02,0.26L0.12,0.34M-0.12,0.9L-0.02,0.98L-0.12,1.06"},"encoding":{"x":{"field":"x","type":"quantitative","scale":{"domain":[31,35],"nice":false,"zero":false},"axis":null},"y":{"field":"depth","type":"quantitative","scale":{"domain":[0,100],"reverse":true,"nice":false,"zero":false},"axis":{"values":[0,10,20,30,40,50,60,70,80,90,100],"title":null}}}},
{"data":{"name":"ttl"},"transform":[{"filter":"datum.panel==='e'"}],"mark":{"type":"text","align":"right","baseline":"alphabetic","fontSize":31,"fontWeight":"bold","font":"Liberation Sans","color":"black"},"encoding":{"x":{"field":"x","type":"quantitative","scale":{"domain":[31,35],"nice":false,"zero":false},"axis":null},"y":{"field":"depth","type":"quantitative","scale":{"domain":[0,100],"reverse":true,"nice":false,"zero":false},"axis":{"values":[0,10,20,30,40,50,60,70,80,90,100],"title":null}},"text":{"field":"letter"}}}
]},
{"width":377,"height":265,"title":{"text":"17DEC2015 AFTER 2nd WB FORCING (3m/s, -1mm/day)","dx":-7},
"resolve":{"scale":{"x":"independent"}},
"layer":[
{"data":{"name":"prof"},"transform":[{"filter":"datum.panel==='f' && datum.var==='S'"}],"mark":{"type":"line","color":"#0b3b78","interpolate":"catmull-rom"},"encoding":{"x":{"field":"value","type":"quantitative","scale":{"domain":[31,35],"nice":false,"zero":false},"axis":{"orient":"top","values":[31,31.5,32,32.5,33,33.5,34,34.5,35],"format":"~g","title":null}},"y":{"field":"depth","type":"quantitative","scale":{"domain":[0,100],"reverse":true,"nice":false,"zero":false},"axis":{"values":[0,10,20,30,40,50,60,70,80,90,100],"title":null}},"order":{"field":"depth","type":"quantitative"},"detail":{"field":"kind"},"strokeWidth":{"field":"kind","type":"nominal","scale":{"type":"ordinal","domain":["cur","prev","prev2"],"range":[7.5,1.7,1.7]},"legend":null},"strokeDash":{"field":"kind","type":"nominal","scale":{"type":"ordinal","domain":["cur","prev","prev2"],"range":[[1,0],[4,2],[1,0]]},"legend":null}}},
{"data":{"name":"prof"},"transform":[{"filter":"datum.panel==='f' && datum.var==='T'"}],"mark":{"type":"line","color":"#ff0000","interpolate":"catmull-rom"},"encoding":{"x":{"field":"value","type":"quantitative","scale":{"domain":[26,30.5],"nice":false,"zero":false},"axis":{"orient":"bottom","values":[26,26.5,27,27.5,28,28.5,29,29.5,30,30.5],"format":"~g","title":null}},"y":{"field":"depth","type":"quantitative","scale":{"domain":[0,100],"reverse":true,"nice":false,"zero":false},"axis":{"values":[0,10,20,30,40,50,60,70,80,90,100],"title":null}},"order":{"field":"depth","type":"quantitative"},"detail":{"field":"kind"},"strokeWidth":{"field":"kind","type":"nominal","scale":{"type":"ordinal","domain":["cur","prev","prev2"],"range":[7.5,1.7,1.7]},"legend":null},"strokeDash":{"field":"kind","type":"nominal","scale":{"type":"ordinal","domain":["cur","prev","prev2"],"range":[[1,0],[4,2],[1,0]]},"legend":null}}},
{"data":{"name":"lev"},"transform":[{"filter":"datum.panel==='f'"}],"mark":{"type":"rule","color":"black","strokeWidth":4.5},"encoding":{"y":{"field":"depth","type":"quantitative","scale":{"domain":[0,100],"reverse":true,"nice":false,"zero":false},"axis":{"values":[0,10,20,30,40,50,60,70,80,90,100],"title":null}},"strokeDash":{"field":"level","type":"nominal","scale":{"type":"ordinal","domain":["MLD","ILD"],"range":[[1,0],[10,5]]},"legend":null}}},
{"data":{"name":"lab"},"transform":[{"filter":"datum.panel==='f' && datum.side==='left'"}],"mark":{"type":"text","align":"left","baseline":"middle","fontSize":13.3,"lineBreak":"\n","lineHeight":14,"font":"Liberation Sans"},"encoding":{"x":{"field":"x","type":"quantitative","scale":{"domain":[31,35],"nice":false,"zero":false},"axis":null},"y":{"field":"depth","type":"quantitative","scale":{"domain":[0,100],"reverse":true,"nice":false,"zero":false},"axis":{"values":[0,10,20,30,40,50,60,70,80,90,100],"title":null}},"text":{"field":"text"},"color":{"field":"role","type":"nominal","scale":{"domain":["note","S","T"],"range":["#333333","#2b5fad","#ff1a1a"]},"legend":null}}},
{"data":{"name":"lab"},"transform":[{"filter":"datum.panel==='f' && datum.side==='right'"}],"mark":{"type":"text","align":"right","baseline":"middle","fontSize":13.3,"font":"Liberation Sans","color":"#333333"},"encoding":{"x":{"field":"x","type":"quantitative","scale":{"domain":[31,35],"nice":false,"zero":false},"axis":null},"y":{"field":"depth","type":"quantitative","scale":{"domain":[0,100],"reverse":true,"nice":false,"zero":false},"axis":{"values":[0,10,20,30,40,50,60,70,80,90,100],"title":null}},"text":{"field":"text"}}},
{"data":{"name":"sym"},"transform":[{"filter":"datum.panel==='f' && datum.kind==='eddy'"}],"mark":{"type":"point","filled":false,"color":"black","strokeWidth":1.4,"opacity":1,"size":4900,"shape":"M0.47,-0.62C0.47,-0.42,0.26,-0.26,0,-0.26C-0.26,-0.26,-0.47,-0.42,-0.47,-0.62C-0.47,-0.82,-0.26,-0.98,0,-0.98C0.26,-0.98,0.47,-0.82,0.47,-0.62M0.47,0C0.47,0.2,0.26,0.36,0,0.36C-0.26,0.36,-0.47,0.2,-0.47,0C-0.47,-0.2,-0.26,-0.36,0,-0.36C0.26,-0.36,0.47,-0.2,0.47,0M0.47,0.62C0.47,0.82,0.26,0.98,0,0.98C-0.26,0.98,-0.47,0.82,-0.47,0.62C-0.47,0.42,-0.26,0.26,0,0.26C0.26,0.26,0.47,0.42,0.47,0.62M0.12,-1.06L0.02,-0.98L0.12,-0.9M-0.12,-0.34L-0.02,-0.26L-0.12,-0.18M0.12,-0.44L0.02,-0.36L0.12,-0.28M-0.12,0.28L-0.02,0.36L-0.12,0.44M0.12,0.18L0.02,0.26L0.12,0.34M-0.12,0.9L-0.02,0.98L-0.12,1.06"},"encoding":{"x":{"field":"x","type":"quantitative","scale":{"domain":[31,35],"nice":false,"zero":false},"axis":null},"y":{"field":"depth","type":"quantitative","scale":{"domain":[0,100],"reverse":true,"nice":false,"zero":false},"axis":{"values":[0,10,20,30,40,50,60,70,80,90,100],"title":null}}}},
{"data":{"name":"ttl"},"transform":[{"filter":"datum.panel==='f'"}],"mark":{"type":"text","align":"right","baseline":"alphabetic","fontSize":31,"fontWeight":"bold","font":"Liberation Sans","color":"black"},"encoding":{"x":{"field":"x","type":"quantitative","scale":{"domain":[31,35],"nice":false,"zero":false},"axis":null},"y":{"field":"depth","type":"quantitative","scale":{"domain":[0,100],"reverse":true,"nice":false,"zero":false},"axis":{"values":[0,10,20,30,40,50,60,70,80,90,100],"title":null}},"text":{"field":"letter"}}}
]}
],
"config": {
"view": {"stroke": "#8c8c8c", "strokeWidth": 1},
"title": {"anchor": "start", "frame": "group", "font": "Liberation Sans", "fontSize": 13.5, "fontWeight": "normal", "color": "#222222", "offset": -28},
"axis": {"labelFont": "Liberation Sans", "labelFontSize": 11, "labelFontWeight": "bold", "labelColor": "#1a1a1a", "tickColor": "#555555", "domainColor": "#8c8c8c", "tickSize": 4, "labelPadding": 1, "grid": false, "titleFont": "Liberation Sans", "titleFontSize": 12.5, "titleFontWeight": "normal", "titleColor": "#222222", "titlePadding": 2, "labelFlush": false, "labelOverlap": false},
"text": {"font": "Liberation Sans"}
}
}
